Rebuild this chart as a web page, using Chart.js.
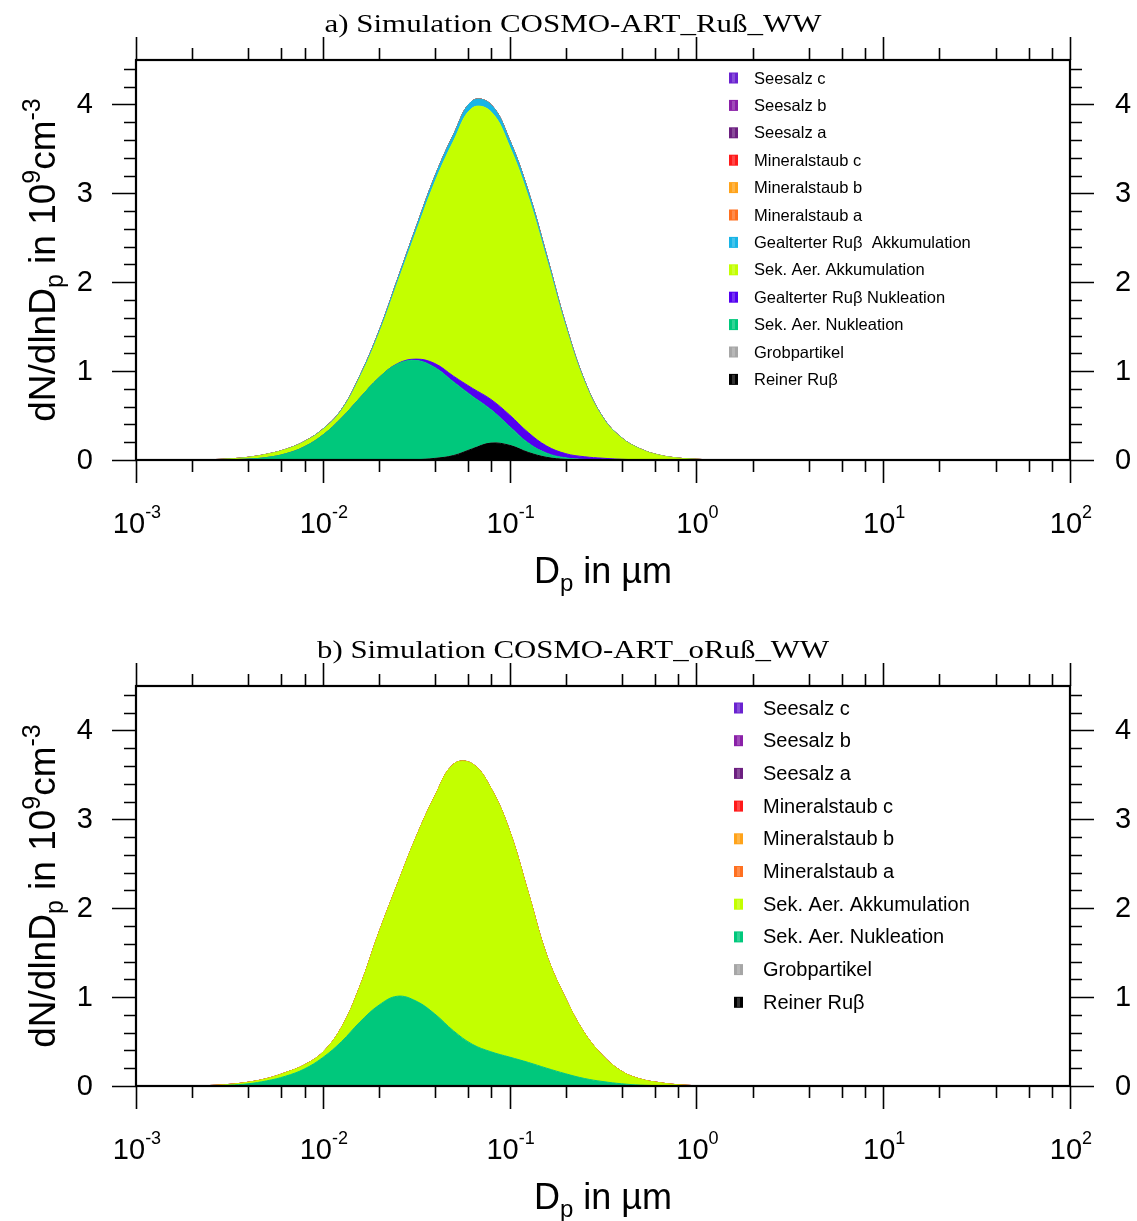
<!DOCTYPE html>
<html>
<head>
<meta charset="utf-8">
<script src="https://cdn.jsdelivr.net/npm/chart.js@4.4.1/dist/chart.umd.min.js"></script>
<style>
  body { margin: 0; background: #fff; }
  #wrap { position: relative; width: 1137px; height: 1221px; }
  canvas { position: absolute; left: 0; }
  #chartA { top: 0; }
  #chartB { top: 610px; }
</style>
</head>
<body>
<div id="wrap">
  <canvas id="chartA" width="1137" height="610"></canvas>
  <canvas id="chartB" width="1137" height="611"></canvas>
</div>
<script>
// particle diameter D_p in µm
const diam = [0.001, 0.002, 0.00251, 0.00316, 0.00398, 0.00501, 0.00631, 0.00794, 0.01, 0.0126,
              0.0158, 0.02, 0.0251, 0.0316, 0.0398, 0.0501, 0.0631, 0.0794, 0.1, 0.126,
              0.158, 0.2, 0.251, 0.316, 0.398, 0.501, 0.631, 0.794, 1.0, 1.26,
              1.58, 2.0, 100];

// a) COSMO-ART_Ruß_WW, dN/dlnDp in 10^9 cm^-3
const reinerRussA = [0, 0, 0, 0, 0, 0, 0, 0, 0, 0,
                     0, 0, 0, 0.003, 0.018, 0.05, 0.125, 0.19, 0.165, 0.085,
                     0.03, 0.006, 0.001, 0, 0, 0, 0, 0, 0, 0,
                     0, 0, 0];
const nuklA = [0, 0.0002, 0.001, 0.0033, 0.0104, 0.028, 0.069, 0.147, 0.28, 0.472,
               0.699, 0.927, 1.08, 1.117, 1.022, 0.828, 0.593, 0.377, 0.212, 0.105,
               0.047, 0.018, 0.006, 0.002, 0, 0, 0, 0, 0, 0,
               0, 0, 0];
const russNuklA = [0, 0, 0, 0, 0, 0, 0, 0, 0, 0,
                   0, 0, 0.004, 0.015, 0.045, 0.065, 0.09, 0.115, 0.13, 0.118,
                   0.08, 0.047, 0.03, 0.018, 0.008, 0.003, 0, 0, 0, 0,
                   0, 0, 0];
const akkA = [0, 0.001, 0.003, 0.009, 0.019, 0.036, 0.048, 0.056, 0.06, 0.085,
              0.23, 0.494, 0.906, 1.433, 2.042, 2.645, 3.152, 3.238, 3.021, 2.652,
              2.097, 1.419, 0.845, 0.45, 0.237, 0.119, 0.054, 0.022, 0.008, 0.003,
              0.001, 0, 0];
const russAkkA = [0, 0, 0, 0, 0.001, 0.001, 0.002, 0.004, 0.007, 0.011,
                  0.019, 0.029, 0.04, 0.052, 0.063, 0.072, 0.08, 0.08, 0.072, 0.06,
                  0.046, 0.03, 0.018, 0.01, 0.005, 0.003, 0.001, 0, 0, 0,
                  0, 0, 0];

// b) COSMO-ART_oRuß_WW
const nuklB = [0, 0.001, 0.003, 0.009, 0.025, 0.058, 0.11, 0.19, 0.32, 0.5,
               0.72, 0.91, 1.01, 0.955, 0.81, 0.62, 0.47, 0.385, 0.325, 0.265,
               0.2, 0.137, 0.085, 0.05, 0.025, 0.01, 0.004, 0.001, 0, 0,
               0, 0, 0];
const akkB = [0, 0.001, 0.003, 0.009, 0.017, 0.025, 0.04, 0.045, 0.06, 0.16,
              0.4, 0.82, 1.26, 1.845, 2.45, 3.0, 3.155, 2.965, 2.545, 1.905,
              1.27, 0.843, 0.515, 0.29, 0.14, 0.068, 0.034, 0.013, 0.004, 0.001,
              0, 0, 0];

// species that stay at zero in both runs
const zero = [0, 0, 0, 0, 0, 0, 0, 0, 0, 0,
              0, 0, 0, 0, 0, 0, 0, 0, 0, 0,
              0, 0, 0, 0, 0, 0, 0, 0, 0, 0,
              0, 0, 0];

// axis ticks
const xMajor = [0.001, 0.01, 0.1, 1, 10, 100];
const xExp = ["-3", "-2", "-1", "0", "1", "2"];
const yMajor = [0, 1, 2, 3, 4];

const col = {
    reiner: "#000000", grob: "#a6a6a6", nukl: "#00c87c", russNukl: "#5300f0",
    akk: "#c3ff00", russAkk: "#18b4e6", minA: "#ff7020", minB: "#ffa31a",
    minC: "#ff1a1a", seeA: "#6c1f80", seeB: "#8a20a8", seeC: "#6a22d0"
};

function series(label, values, color, first) {
    return {
        label: label,
        data: diam.map((d, i) => ({x: d, y: values[i]})),
        backgroundColor: color,
        borderColor: color,
        borderWidth: 1,
        pointRadius: 0,
        tension: 0.4,
        fill: first ? "origin" : "-1"
    };
}

const datasetsA = [
    series("Reiner Ruβ", reinerRussA, col.reiner, true),
    series("Grobpartikel", zero, col.grob),
    series("Sek. Aer. Nukleation", nuklA, col.nukl),
    series("Gealterter Ruβ Nukleation", russNuklA, col.russNukl),
    series("Sek. Aer. Akkumulation", akkA, col.akk),
    series("Gealterter Ruβ  Akkumulation", russAkkA, col.russAkk),
    series("Mineralstaub a", zero, col.minA),
    series("Mineralstaub b", zero, col.minB),
    series("Mineralstaub c", zero, col.minC),
    series("Seesalz a", zero, col.seeA),
    series("Seesalz b", zero, col.seeB),
    series("Seesalz c", zero, col.seeC)
];

const datasetsB = [
    series("Reiner Ruβ", zero, col.reiner, true),
    series("Grobpartikel", zero, col.grob),
    series("Sek. Aer. Nukleation", nuklB, col.nukl),
    series("Sek. Aer. Akkumulation", akkB, col.akk),
    series("Mineralstaub a", zero, col.minA),
    series("Mineralstaub b", zero, col.minB),
    series("Mineralstaub c", zero, col.minC),
    series("Seesalz a", zero, col.seeA),
    series("Seesalz b", zero, col.seeB),
    series("Seesalz c", zero, col.seeC)
];

const SANS = '"Liberation Sans", Arial, sans-serif';

// text made of pieces: [text, size, yOffset]
function pieceWidth(ctx, parts) {
    let w = 0;
    for (const p of parts) {
        ctx.font = p[1] + "px " + SANS;
        w += ctx.measureText(p[0]).width;
    }
    return w;
}

function drawPieces(ctx, parts, x, y) {
    ctx.textAlign = "left";
    ctx.textBaseline = "alphabetic";
    for (const p of parts) {
        ctx.font = p[1] + "px " + SANS;
        ctx.fillText(p[0], x, y + p[2]);
        x += ctx.measureText(p[0]).width;
    }
}

const nclAxes = {
    id: "nclAxes",
    afterDraw(chart, args, opt) {
        const ctx = chart.ctx;
        const a = chart.chartArea;
        const xs = chart.scales.x;
        const ys = chart.scales.y;
        ctx.save();
        ctx.strokeStyle = "#000";
        ctx.fillStyle = "#000";

        // x ticks, top and bottom, outward
        ctx.lineWidth = 1.6;
        for (let e = -3; e <= 2; e++) {
            for (let m = 1; m <= 8; m++) {
                if (m !== 1 && m % 2 !== 0) continue;
                const v = m * Math.pow(10, e);
                if (v > 100) continue;
                const px = Math.round(xs.getPixelForValue(v)) + 0.5;
                const len = m === 1 ? 23 : 12;
                ctx.beginPath();
                ctx.moveTo(px, a.bottom); ctx.lineTo(px, a.bottom + len);
                ctx.moveTo(px, a.top); ctx.lineTo(px, a.top - len);
                ctx.stroke();
            }
        }
        // y ticks, left and right, outward
        for (let i = 0; i <= 22; i++) {
            const v = i * 0.2;
            const py = Math.round(ys.getPixelForValue(v)) + 0.5;
            const len = i % 5 === 0 ? 24 : 12;
            ctx.beginPath();
            ctx.moveTo(a.left, py); ctx.lineTo(a.left - len, py);
            ctx.moveTo(a.right, py); ctx.lineTo(a.right + len, py);
            ctx.stroke();
        }

        // frame
        ctx.lineWidth = 2.2;
        ctx.strokeRect(a.left, a.top, a.right - a.left, a.bottom - a.top);

        // y tick labels
        ctx.font = "29px " + SANS;
        ctx.textBaseline = "middle";
        for (const v of yMajor) {
            const py = ys.getPixelForValue(v);
            ctx.textAlign = "right";
            ctx.fillText(String(v), a.left - 43, py + 1);
            ctx.textAlign = "left";
            ctx.fillText(String(v), a.right + 45, py + 1);
        }

        // x tick labels 10^n
        xMajor.forEach((v, i) => {
            const parts = [["10", 29, 0], [xExp[i], 18, -15]];
            const w = pieceWidth(ctx, parts);
            const px = xs.getPixelForValue(v);
            drawPieces(ctx, parts, px - w / 2 + 1, a.bottom + 73);
        });

        // x axis title
        const xt = [["D", 36, 0], ["p", 24, 8], [" in µm", 36, 0]];
        const xw = pieceWidth(ctx, xt);
        drawPieces(ctx, xt, (a.left + a.right) / 2 - xw / 2, a.bottom + 123);

        // y axis title, rotated
        const yt = [["dN/dlnD", 37, 0], ["p", 25, 8], [" in 10", 37, 0], ["9", 25, -15],
                    ["cm", 37, 0], ["-3", 25, -15]];
        const yw = pieceWidth(ctx, yt);
        ctx.save();
        ctx.translate(55, (a.top + a.bottom) / 2);
        ctx.rotate(-Math.PI / 2);
        drawPieces(ctx, yt, -yw / 2, 0);
        ctx.restore();

        // panel title (serif, latex look)
        ctx.save();
        ctx.font = '26px "Liberation Serif", "Times New Roman", serif';
        const tw = ctx.measureText(opt.title).width;
        ctx.translate(opt.titleX, a.top - 28);
        ctx.scale(opt.titleW / tw, 1);
        ctx.textAlign = "center";
        ctx.textBaseline = "alphabetic";
        ctx.fillText(opt.title, 0, 0);
        ctx.restore();

        // legend, top entry = last stacked series
        const ds = chart.data.datasets.slice().reverse();
        ds.forEach((d, i) => {
            const cy = opt.legY + i * opt.legDY;
            ctx.fillStyle = d.backgroundColor;
            ctx.fillRect(opt.boxX - 4.5, cy - 5.5, 9, 11);
            ctx.fillStyle = "rgba(255,255,255,0.2)";
            ctx.fillRect(opt.boxX - 1.5, cy - 4.5, 3, 9);
            ctx.fillStyle = "#000";
            ctx.font = opt.legFont + "px " + SANS;
            ctx.textAlign = "left";
            ctx.textBaseline = "middle";
            ctx.fillText(d.label, opt.textX, cy + 1);
        });
        ctx.restore();
    }
};

function makeChart(id, datasets, pad, opt) {
    const ctx = document.getElementById(id).getContext("2d");
    return new Chart(ctx, {
        type: "line",
        data: { datasets: datasets },
        options: {
            responsive: false,
            animation: false,
            devicePixelRatio: 1,
            layout: { padding: pad },
            scales: {
                x: { type: "logarithmic", min: 0.001, max: 100, display: false },
                y: { stacked: true, min: 0, max: 4.5, display: false }
            },
            plugins: {
                legend: { display: false },
                tooltip: { enabled: false },
                nclAxes: opt
            }
        },
        plugins: [nclAxes]
    });
}

makeChart("chartA", datasetsA, {left: 136, right: 67, top: 60, bottom: 150}, {
    title: "a) Simulation COSMO-ART_Ruß_WW", titleX: 573, titleW: 497,
    legY: 78, legDY: 27.4, boxX: 733.5, textX: 754, legFont: 16.5
});
makeChart("chartB", datasetsB, {left: 136, right: 67, top: 76, bottom: 135}, {
    title: "b) Simulation COSMO-ART_oRuß_WW", titleX: 573, titleW: 512,
    legY: 98, legDY: 32.7, boxX: 738.5, textX: 763, legFont: 20
});
</script>
</body>
</html>
